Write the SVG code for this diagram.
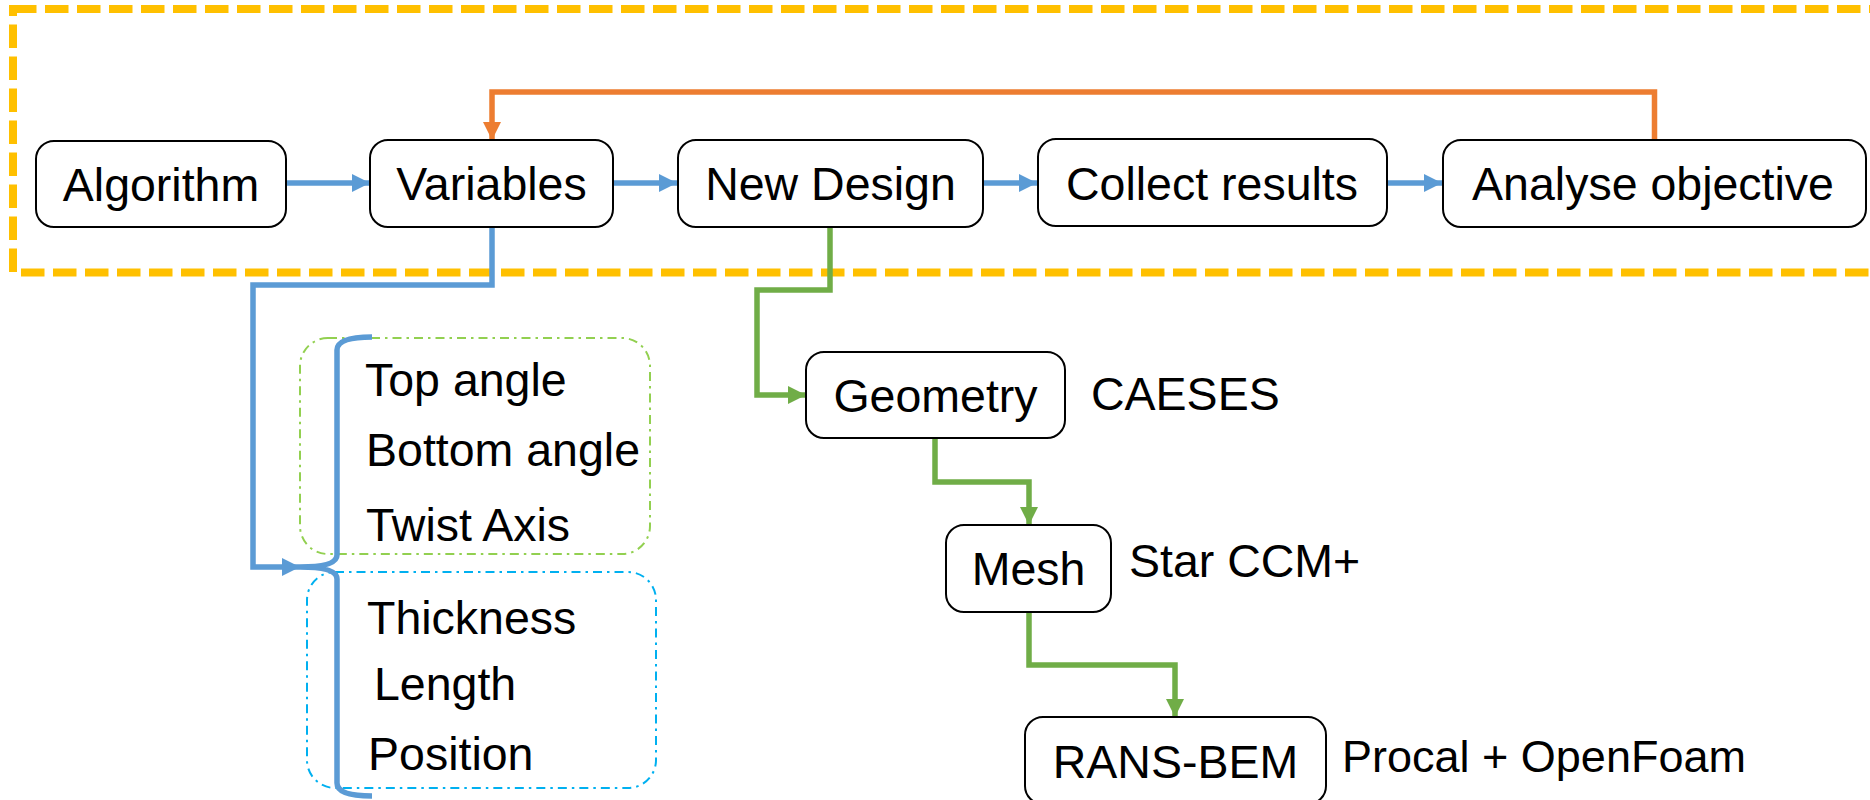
<svg xmlns="http://www.w3.org/2000/svg" width="1870" height="800" viewBox="0 0 1870 800">
  <style>
    .box { fill: #ffffff; stroke: #000000; stroke-width: 2; }
    .lbl { font-family: "Liberation Sans", Arial, sans-serif; font-size: 46.5px; fill: #000000; }
    .mid { text-anchor: middle; }
    .blue { fill: none; stroke: #5B9BD5; stroke-width: 5.5; }
    .green { fill: none; stroke: #70AD47; stroke-width: 5.5; }
    .orange { fill: none; stroke: #ED7D31; stroke-width: 5.5; }
    .group { fill: none; stroke-width: 2; stroke-dasharray: 9 5 2.5 5; }
  </style>
  <defs>
    <marker id="arrBlue" viewBox="0 0 10 10" refX="10" refY="5" markerUnits="userSpaceOnUse" markerWidth="18" markerHeight="18" orient="auto">
      <path d="M0,0 L10,5 L0,10 Z" fill="#5B9BD5"/>
    </marker>
    <marker id="arrGreen" viewBox="0 0 10 10" refX="10" refY="5" markerUnits="userSpaceOnUse" markerWidth="18" markerHeight="18" orient="auto">
      <path d="M0,0 L10,5 L0,10 Z" fill="#70AD47"/>
    </marker>
    <marker id="arrOrange" viewBox="0 0 10 10" refX="10" refY="5" markerUnits="userSpaceOnUse" markerWidth="18" markerHeight="18" orient="auto">
      <path d="M0,0 L10,5 L0,10 Z" fill="#ED7D31"/>
    </marker>
  </defs>

  <!-- optimisation loop frame -->
  <rect id="loop-frame" x="13" y="9" width="1900" height="263.5" fill="none" stroke="#FFC000" stroke-width="8" stroke-dasharray="23.5 8.5"/>

  <!-- variable groups -->
  <g id="shape-vars">
    <rect class="group" x="300" y="338" width="350" height="216" rx="28" stroke="#92D050"/>
    <text class="lbl" x="365" y="396">Top angle</text>
    <text class="lbl" x="366" y="466">Bottom angle</text>
    <text class="lbl" x="366" y="541">Twist Axis</text>
  </g>
  <g id="size-vars">
    <rect class="group" x="307" y="572" width="349" height="216" rx="28" stroke="#00B0F0"/>
    <text class="lbl" x="367" y="634">Thickness</text>
    <text class="lbl" x="374" y="700">Length</text>
    <text class="lbl" x="368" y="770">Position</text>
  </g>

  <!-- connectors -->
  <g id="connectors">
    <line class="blue" x1="287" y1="183" x2="370" y2="183" marker-end="url(#arrBlue)"/>
    <line class="blue" x1="614" y1="183" x2="677" y2="183" marker-end="url(#arrBlue)"/>
    <line class="blue" x1="984" y1="183" x2="1037" y2="183" marker-end="url(#arrBlue)"/>
    <line class="blue" x1="1388" y1="183" x2="1442" y2="183" marker-end="url(#arrBlue)"/>
    <polyline class="orange" points="1654.5,140 1654.5,92 492,92 492,140" marker-end="url(#arrOrange)"/>
    <polyline class="blue" points="492,227 492,285 253,285 253,567 300,567" marker-end="url(#arrBlue)"/>
    <path class="blue" stroke-width="5" d="M372,337 Q337,337 337,350 L337,555 Q337,567 300,567 Q337,567 337,579 L337,783 Q337,796 372,796"/>
    <polyline class="green" points="830,227 830,290 757,290 757,395 806,395" marker-end="url(#arrGreen)"/>
    <polyline class="green" points="935,438 935,482 1029,482 1029,525" marker-end="url(#arrGreen)"/>
    <polyline class="green" points="1029,612 1029,665 1175,665 1175,717" marker-end="url(#arrGreen)"/>
  </g>

  <!-- main loop nodes -->
  <g id="algorithm">
    <rect class="box" x="36" y="141" width="250" height="86" rx="18"/>
    <text class="lbl mid" x="161" y="201">Algorithm</text>
  </g>
  <g id="variables">
    <rect class="box" x="370" y="140" width="243" height="87" rx="18"/>
    <text class="lbl mid" x="491.5" y="200">Variables</text>
  </g>
  <g id="new-design">
    <rect class="box" x="678" y="140" width="305" height="87" rx="18"/>
    <text class="lbl mid" x="830.5" y="200">New Design</text>
  </g>
  <g id="collect-results">
    <rect class="box" x="1038" y="139" width="349" height="87" rx="18"/>
    <text class="lbl mid" x="1212" y="200">Collect results</text>
  </g>
  <g id="analyse-objective">
    <rect class="box" x="1443" y="140" width="423" height="87" rx="18"/>
    <text class="lbl mid" x="1653" y="200">Analyse objective</text>
  </g>

  <!-- evaluation chain -->
  <g id="geometry">
    <rect class="box" x="806" y="352" width="259" height="86" rx="18"/>
    <text class="lbl mid" x="935.5" y="412">Geometry</text>
    <text class="lbl" x="1091" y="410">CAESES</text>
  </g>
  <g id="mesh">
    <rect class="box" x="946" y="525" width="165" height="87" rx="18"/>
    <text class="lbl mid" x="1028.5" y="585">Mesh</text>
    <text class="lbl" x="1129" y="577">Star CCM+</text>
  </g>
  <g id="rans-bem">
    <rect class="box" x="1025" y="717" width="301" height="87" rx="18"/>
    <text class="lbl mid" x="1175.5" y="778">RANS-BEM</text>
    <text class="lbl" x="1342" y="772" style="font-size:45px">Procal + OpenFoam</text>
  </g>
</svg>
